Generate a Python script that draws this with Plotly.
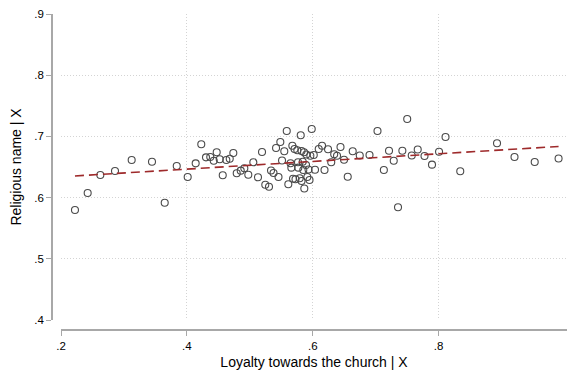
import numpy as np
import plotly.graph_objects as go

# Partial-regression (added-variable) data
loyalty_x = [
    0.2222, 0.2424, 0.2625, 0.2858, 0.3123, 0.3446, 0.3648, 0.3839, 0.4013, 0.4140,
    0.4229, 0.4304, 0.4372, 0.4427, 0.4474, 0.4522, 0.4570, 0.4627, 0.4681, 0.4738,
    0.4792, 0.4856, 0.4913, 0.4976, 0.5056, 0.5130, 0.5194, 0.5246, 0.5305, 0.5337,
    0.5377, 0.5417, 0.5456, 0.5485, 0.5512, 0.5548, 0.5587, 0.5612, 0.5647, 0.5660,
    0.5676, 0.5687, 0.5711, 0.5726, 0.5755, 0.5766, 0.5771, 0.5793, 0.5809, 0.5822,
    0.5822, 0.5841, 0.5850, 0.5861, 0.5866, 0.5893, 0.5898, 0.5914, 0.5933, 0.5949,
    0.5962, 0.5984, 0.6016, 0.6036, 0.6095, 0.6148, 0.6187, 0.6243, 0.6294, 0.6341,
    0.6386, 0.6441, 0.6497, 0.6556, 0.6635, 0.6747, 0.6902, 0.7029, 0.7130, 0.7212,
    0.7287, 0.7355, 0.7424, 0.7501, 0.7573, 0.7668, 0.7776, 0.7895, 0.8007, 0.8110,
    0.8344, 0.8928, 0.9206, 0.9527, 0.9906,
]
religious_y = [
    0.5797, 0.6075, 0.6369, 0.6435, 0.6614, 0.6587, 0.5917, 0.6516, 0.6337, 0.6560,
    0.6871, 0.6658, 0.6663, 0.6603, 0.6740, 0.6626, 0.6364, 0.6614, 0.6636, 0.6729,
    0.6397, 0.6440, 0.6479, 0.6374, 0.6577, 0.6332, 0.6745, 0.6211, 0.6178, 0.6443,
    0.6402, 0.6810, 0.6337, 0.6908, 0.6606, 0.6757, 0.7088, 0.6217, 0.6562, 0.6489,
    0.6848, 0.6309, 0.6794, 0.6299, 0.6773, 0.6577, 0.6489, 0.6315, 0.7018, 0.6761,
    0.6271, 0.6587, 0.6451, 0.6740, 0.6149, 0.6533, 0.6704, 0.6337, 0.6459, 0.6288,
    0.6685, 0.7121, 0.6696, 0.6456, 0.6794, 0.6848, 0.6451, 0.6791, 0.6577, 0.6709,
    0.6685, 0.6827, 0.6619, 0.6340, 0.6757, 0.6688, 0.6696, 0.7088, 0.6451, 0.6766,
    0.6603, 0.5842, 0.6766, 0.7284, 0.6688, 0.6786, 0.6680, 0.6538, 0.6748, 0.6990,
    0.6431, 0.6887, 0.6663, 0.6582, 0.6639,
]

x_ticks = [0.2, 0.4, 0.6, 0.8]
x_tick_text = [".2", ".4", ".6", ".8"]
y_ticks = [0.4, 0.5, 0.6, 0.7, 0.8, 0.9]
y_tick_text = [".4", ".5", ".6", ".7", ".8", ".9"]

x_title = "Loyalty towards the church | X"
y_title = "Religious name | X"

xa = np.array(loyalty_x)
ya = np.array(religious_y)
slope, intercept = np.polyfit(xa, ya, 1)
fit_x = np.array([xa.min(), xa.max()])
fit_y = intercept + slope * fit_x

fig = go.Figure()
fig.add_trace(go.Scatter(
    x=loyalty_x, y=religious_y, mode="markers",
    marker=dict(symbol="circle-open", size=7, color="#4a4a4a", line=dict(width=1.1)),
    showlegend=False, hoverinfo="skip",
))
fig.add_trace(go.Scatter(
    x=fit_x, y=fit_y, mode="lines",
    line=dict(color="#9e2a2b", width=1.6, dash="9px,5px"),
    showlegend=False, hoverinfo="skip",
))

W, H = 567, 373
ml, mr, mt, mb = 52, 0, 14, 43
pw = W - ml - mr
ph = H - mt - mb
axis_color = "#a8a8a8"
grid_color = "#d4d4d4"
font_family = "Liberation Sans, Arial, sans-serif"

fig.update_layout(
    width=W, height=H,
    margin=dict(l=ml, r=mr, t=mt, b=mb, pad=0),
    paper_bgcolor="white", plot_bgcolor="white",
    font=dict(family=font_family, color="#000000"),
    xaxis=dict(
        domain=[9 / pw, 1], anchor="free", position=0,
        range=[0.2, 1.004],
        tickvals=x_ticks, ticktext=x_tick_text,
        tickfont=dict(size=11.5),
        showline=True, linecolor=axis_color, linewidth=1.5,
        ticks="outside", ticklen=5, tickcolor=axis_color, tickwidth=1.2,
        showgrid=True, gridcolor=grid_color, griddash="1px,2px", gridwidth=1,
        zeroline=False,
        title=dict(text=x_title, font=dict(size=14), standoff=6),
    ),
    yaxis=dict(
        domain=[10 / ph, 1], anchor="free", position=0,
        range=[0.4, 0.9],
        tickvals=y_ticks, ticktext=y_tick_text,
        tickfont=dict(size=11.5),
        showline=True, linecolor=axis_color, linewidth=1.5,
        ticks="outside", ticklen=5, tickcolor=axis_color, tickwidth=1.2,
        showgrid=True, gridcolor=grid_color, griddash="1px,2px", gridwidth=1,
        zeroline=False,
        title=dict(text=y_title, font=dict(size=14), standoff=8),
    ),
)

fig.write_html("out.html")
